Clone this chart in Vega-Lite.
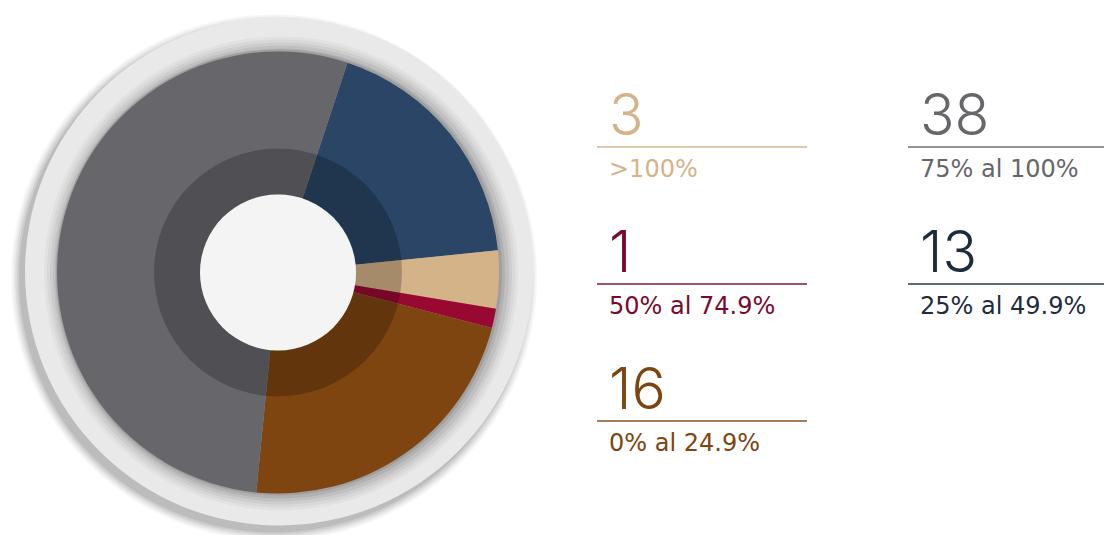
{
  "$schema": "https://vega.github.io/schema/vega-lite/v6.json",
  "padding": {"left": 0, "top": 10, "right": 0, "bottom": 0},
  "background": "#ffffff",
  "config": {"view": {"stroke": null}},
  "datasets": {
    "rangos": [
      {"categoria": "25% al 49.9%", "cantidad": 13, "orden": 1, "columna": 2, "fila": 2},
      {"categoria": ">100%", "cantidad": 3, "orden": 2, "columna": 1, "fila": 1},
      {"categoria": "50% al 74.9%", "cantidad": 1, "orden": 3, "columna": 1, "fila": 2},
      {"categoria": "0% al 24.9%", "cantidad": 16, "orden": 4, "columna": 1, "fila": 3},
      {"categoria": "75% al 100%", "cantidad": 38, "orden": 5, "columna": 2, "fila": 1}
    ],
    "uno": [{}]
  },
  "resolve": {"scale": {"color": "independent"}},
  "spacing": 41,
  "hconcat": [
    {
      "width": 556,
      "height": 525,
      "layer": [
        {"data": {"name": "uno"}, "mark": {"type": "arc", "theta": 0, "theta2": 6.2832, "radius": 263, "fill": "#000000", "opacity": 0.035, "yOffset": 5, "xOffset": -4}, "encoding": {}},
        {"data": {"name": "uno"}, "mark": {"type": "arc", "theta": 0, "theta2": 6.2832, "radius": 261, "fill": "#000000", "opacity": 0.045, "yOffset": 5, "xOffset": -4}, "encoding": {}},
        {"data": {"name": "uno"}, "mark": {"type": "arc", "theta": 0, "theta2": 6.2832, "radius": 259, "fill": "#000000", "opacity": 0.06, "yOffset": 5, "xOffset": -4}, "encoding": {}},
        {"data": {"name": "uno"}, "mark": {"type": "arc", "theta": 0, "theta2": 6.2832, "radius": 257, "fill": "#000000", "opacity": 0.07, "yOffset": 5, "xOffset": -4}, "encoding": {}},
        {"data": {"name": "uno"}, "mark": {"type": "arc", "theta": 0, "theta2": 6.2832, "radius": 255, "fill": "#000000", "opacity": 0.08, "yOffset": 5, "xOffset": -4}, "encoding": {}},
        {"data": {"name": "uno"}, "mark": {"type": "arc", "theta": 0, "theta2": 6.2832, "radius": 254, "fill": "#e9e9e9", "yOffset": -1, "xOffset": 1}, "encoding": {}},
        {"data": {"name": "uno"}, "mark": {"type": "arc", "theta": 0, "theta2": 6.2832, "radius": 237, "fill": "#000000", "opacity": 0.03, "xOffset": 3, "yOffset": 1}, "encoding": {}},
        {"data": {"name": "uno"}, "mark": {"type": "arc", "theta": 0, "theta2": 6.2832, "radius": 234, "fill": "#000000", "opacity": 0.04, "xOffset": 3, "yOffset": 1}, "encoding": {}},
        {"data": {"name": "uno"}, "mark": {"type": "arc", "theta": 0, "theta2": 6.2832, "radius": 231, "fill": "#000000", "opacity": 0.05, "xOffset": 3, "yOffset": 1}, "encoding": {}},
        {"data": {"name": "uno"}, "mark": {"type": "arc", "theta": 0, "theta2": 6.2832, "radius": 228, "fill": "#000000", "opacity": 0.06, "xOffset": 3, "yOffset": 1}, "encoding": {}},
        {"data": {"name": "uno"}, "mark": {"type": "arc", "theta": 0, "theta2": 6.2832, "radius": 225, "fill": "#000000", "opacity": 0.08, "xOffset": 2, "yOffset": 1}, "encoding": {}},
        {"data": {"name": "uno"}, "mark": {"type": "arc", "theta": 0, "theta2": 6.2832, "radius": 223, "fill": "#000000", "opacity": 0.1, "xOffset": 1, "yOffset": 0}, "encoding": {}},
        {
          "data": {"name": "rangos"},
          "mark": {"type": "arc", "radius": 221},
          "encoding": {
            "theta": {"field": "cantidad", "type": "quantitative", "stack": true, "scale": {"range": [0.32, 6.6032]}},
            "order": {"field": "orden", "type": "quantitative"},
            "color": {
              "field": "categoria", "type": "nominal", "legend": null,
              "scale": {
                "domain": ["25% al 49.9%", ">100%", "50% al 74.9%", "0% al 24.9%", "75% al 100%"],
                "range": ["#2a4565", "#d4b388", "#990833", "#7e4511", "#67666b"]
              }
            }
          }
        },
        {"data": {"name": "uno"}, "mark": {"type": "arc", "theta": 0, "theta2": 6.2832, "radius": 124, "radius2": 78, "fill": "#000000", "opacity": 0.22}, "encoding": {}},
        {"data": {"name": "uno"}, "mark": {"type": "arc", "theta": 0, "theta2": 6.2832, "radius": 78, "fill": "#f4f4f4"}, "encoding": {}}
      ]
    },
    {
      "width": 507,
      "height": 525,
      "data": {"name": "rangos"},
      "encoding": {
        "x": {"field": "columna", "type": "quantitative", "axis": null, "scale": {"domain": [1, 2.63], "nice": false, "zero": false}},
        "y": {"field": "fila", "type": "quantitative", "axis": null, "scale": {"domain": [0, 3.832], "nice": false, "zero": false, "reverse": true}},
        "color": {
          "field": "categoria", "type": "nominal", "legend": null,
          "scale": {
            "domain": ["25% al 49.9%", ">100%", "50% al 74.9%", "0% al 24.9%", "75% al 100%"],
            "range": ["#1c2c3d", "#d4b388", "#7a0a2c", "#7e4511", "#67666b"]
          }
        }
      },
      "layer": [
        {"mark": {"type": "tick", "orient": "horizontal", "size": 210, "thickness": 2, "xOffset": 105}},
        {"mark": {"type": "text", "align": "left", "baseline": "alphabetic", "dx": 12, "dy": -12, "font": "Inter", "fontSize": 57, "fontWeight": 300}, "encoding": {"text": {"field": "cantidad", "type": "quantitative"}}},
        {"mark": {"type": "text", "align": "left", "baseline": "alphabetic", "dx": 12, "dy": 30, "font": "DejaVu Sans", "fontSize": 24, "fontWeight": 400}, "encoding": {"text": {"field": "categoria", "type": "nominal"}}}
      ]
    }
  ]
}
